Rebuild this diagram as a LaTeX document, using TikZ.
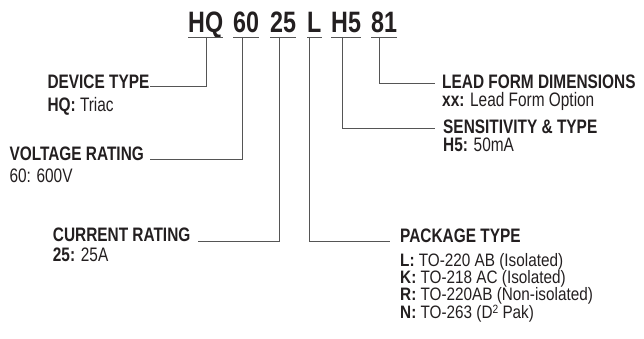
\documentclass[tikz,border=0pt]{standalone}
\usepackage{fontspec}
\setmainfont{Liberation Sans}[FakeStretch=0.79]
\newfontfamily\pkfont{Liberation Sans}[FakeStretch=0.85]
\usetikzlibrary{calc}
\definecolor{ink}{HTML}{231F20}
\definecolor{wirec}{HTML}{555555}
\begin{document}
\begin{tikzpicture}[x=1pt,y=-1pt,
  code/.style={anchor=base west,inner sep=0pt,font=\fontsize{29.5}{29.5}\selectfont\bfseries,text=ink},
  lbl/.style={anchor=base west,inner sep=0pt,text height=12.5pt,text depth=3pt,font=\fontsize{19.5}{19.5}\selectfont,text=ink},
  ttl/.style={lbl,font=\fontsize{19.5}{19.5}\selectfont\bfseries},
  pkl/.style={lbl,text height=12pt,font=\pkfont\fontsize{18}{18}\selectfont},
  wire/.style={draw=wirec,line width=0.9pt}]
\useasboundingbox (0,0) rectangle (644,339);
% code
\node[code] (hq) at (188,33) {HQ};
\node[code] (v60) at (233,33) {60};
\node[code] (c25) at (270,33) {25};
\node[code] (pl) at (307,33) {L};
\node[code] (h5) at (331,33) {H5};
\node[code] (lf) at (371,33) {81};
\foreach \n in {hq,v60,c25,pl,h5,lf}
  \draw[wire] ($(\n.base west)+(0,4)$) -- ($(\n.base east)+(0,4)$);
% taps on underlines
\coordinate (hqt) at (206.7,37);
\coordinate (v60t) at (242.7,37);
\coordinate (c25t) at (279.3,37);
\coordinate (plt) at (309.3,37);
\coordinate (h5t) at (342.7,37);
\coordinate (lft) at (379,37);
% labels
\node[ttl] (dt) at (47.3,88.3) {DEVICE TYPE};
\node[lbl] (dtv) at (47.3,111.7) {\textbf{HQ:} Triac};
\node[ttl] (vr) at (9.3,160.7) {VOLTAGE RATING};
\node[lbl] (vrv) at (9.3,182.7) {60: 600V};
\node[ttl] (cr) at (52.7,241.7) {CURRENT RATING};
\node[lbl] (crv) at (52.7,261.7) {\textbf{25:} 25A};
\node[ttl] (pt) at (400,242) {PACKAGE TYPE};
\node[pkl] (pt1) at (400,266) {\textbf{L:} TO-220 AB (Isolated)};
\node[pkl] (pt2) at (400,283.2) {\textbf{K:} TO-218 AC (Isolated)};
\node[pkl] (pt3) at (400,300.4) {\textbf{R:} TO-220AB (Non-isolated)};
\node[pkl] (pt4) at (400,318.8) {\textbf{N:} TO-263 (D{\fontsize{12}{12}\selectfont\raisebox{0.45em}{2}} Pak)};
\node[ttl] (st) at (443,133.3) {SENSITIVITY \& TYPE};
\node[lbl] (stv) at (443,151.5) {\textbf{H5:} 50mA};
\node[ttl] (ld) at (442,88.3) {LEAD FORM DIMENSIONS};
\node[lbl] (ldv) at (442,107) {\textbf{xx:} Lead Form Option};
% connector ends
\coordinate (dte) at (150,86.7);
\coordinate (vre) at (150,159.3);
\coordinate (cre) at (198.3,241.7);
\coordinate (pte) at (390,241.7);
\coordinate (ste) at (435,128.3);
\coordinate (lde) at (435,83.3);
\draw[wire] (hqt) |- (dte);
\draw[wire] (v60t) |- (vre);
\draw[wire] (c25t) |- (cre);
\draw[wire] (plt) |- (pte);
\draw[wire] (h5t) |- (ste);
\draw[wire] (lft) |- (lde);
\end{tikzpicture}
\end{document}
